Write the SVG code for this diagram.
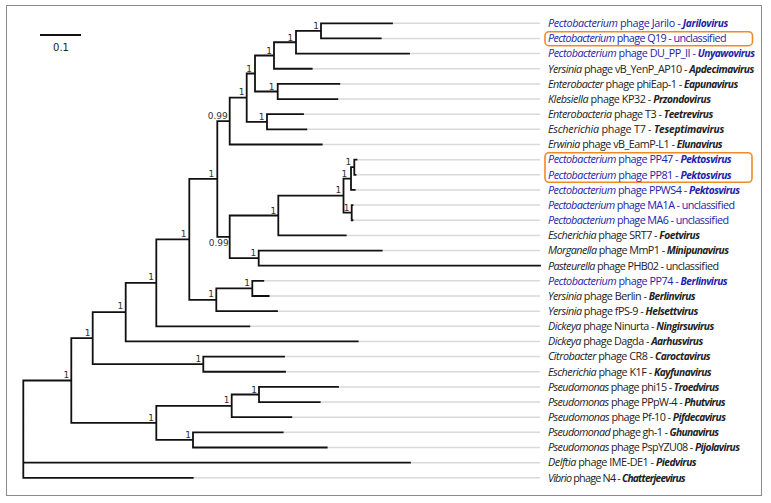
<svg xmlns="http://www.w3.org/2000/svg" width="771" height="503" viewBox="0 0 771 503">
<style>
.frame{fill:#fff;stroke:#8c8c8c;stroke-width:1}
.lead{stroke:#d9d9d9;stroke-width:1.5;fill:none}
.br{stroke:#111;stroke-width:1.8;fill:none;stroke-linecap:square}
.sup{font-family:"DejaVu Sans",sans-serif;font-size:9px;fill:#333;text-anchor:middle}
.lab{font-family:"Open Sans","Noto Sans",sans-serif;font-size:10.8px;fill:#222}
.blue{fill:#2323a8}
.i{font-style:italic}
.g{font-style:italic;font-weight:bold;font-size:10.2px}
.hl{fill:none;stroke:#ef8a2a;stroke-width:1.6}
</style>
<rect class="frame" x="6.5" y="5.5" width="755" height="490"/>
<g id="scalebar">
<line x1="40" y1="35" x2="81" y2="35" stroke="#111" stroke-width="2.2"/>
<text x="61" y="51" font-family="DejaVu Sans,sans-serif" font-size="10" fill="#222" text-anchor="middle">0.1</text>
</g>
<g id="leaders" class="lead">
<path d="M392 23.3H540M380.7 38.45H540M409 53.6H540M311.7 68.75H540M339.3 83.9H540M337.3 99.05H540M303 114.2H540M306.3 129.35H540M321.7 144.5H540M356.5 159.65H540M355.5 174.8H540M354.7 189.95H540M352.5 205.1H540M352.5 220.25H540M345.7 235.4H540M381.7 250.55H540M263.3 280.85H540M268.7 296H540M277 311.15H540M249.3 326.3H540M357.7 341.45H540M284 356.6H540M285 371.75H540M338 386.9H540M319.7 402.05H540M291.3 417.2H540M282.7 432.35H540M326.7 447.5H540M410 462.65H540M192.7 477.8H540"/>
</g>
<g id="connectors" class="br">
<path d="M321 23.3V38.45M321 23.3H392M321 38.45H380.7
M296 30.9V53.6M296 30.9H321M296 53.6H409
M274 42.25V68.75M274 42.25H296M274 68.75H311.7
M277.7 83.9V99.05M277.7 83.9H339.3M277.7 99.05H337.3
M255 55.5V91.5M255 55.5H274M255 91.5H277.7
M267 114.2V129.35M267 114.2H303M267 129.35H306.3
M246.7 73.5V121.8M246.7 73.5H255M246.7 121.8H267
M229.7 97.6V144.5M229.7 97.6H246.7M229.7 144.5H321.7
M354.3 159.65V174.8M354.3 159.65H356.5M354.3 174.8H355.5
M351 167.2V189.95M351 167.2H354.3M351 189.95H354.7
M351.7 205.1V220.25M351.7 205.1H352.5M351.7 220.25H352.5
M343.5 178.6V212.7M343.5 178.6H351M343.5 212.7H351.7
M278.3 195.6V235.4M278.3 195.6H343.5M278.3 235.4H345.7
M258.7 250.55V265.7M258.7 250.55H381.7M258.7 265.7H540
M229.7 215.5V258.1M229.7 215.5H278.3M229.7 258.1H258.7
M217.3 121.05V236.8M217.3 121.05H229.7M217.3 236.8H229.7
M252.3 280.85V296M252.3 280.85H263.3M252.3 296H268.7
M216.3 288.4V311.15M216.3 288.4H252.3M216.3 311.15H277
M189.3 178.9V299.8M189.3 178.9H217.3M189.3 299.8H216.3
M156.3 239.4V326.3M156.3 239.4H189.3M156.3 326.3H249.3
M125.7 282.8V341.45M125.7 282.8H156.3M125.7 341.45H357.7
M203.3 356.6V371.75M203.3 356.6H284M203.3 371.75H285
M92.7 312.1V364.2M92.7 312.1H125.7M92.7 364.2H203.3
M259 386.9V402.05M259 386.9H338M259 402.05H319.7
M231.7 394.5V417.2M231.7 394.5H259M231.7 417.2H291.3
M193 432.35V447.5M193 432.35H282.7M193 447.5H326.7
M156.3 405.8V439.9M156.3 405.8H231.7M156.3 439.9H193
M71.3 338.1V422.9M71.3 338.1H92.7M71.3 422.9H156.3
M23.3 380.5V477.8M23.3 380.5H71.3M23.3 462.65H410M23.3 477.8H192.7"/>
</g>
<g id="support">
<text class="sup" x="316" y="29.3">1</text>
<text class="sup" x="290.3" y="40.6">1</text>
<text class="sup" x="269" y="54">1</text>
<text class="sup" x="271.7" y="90">1</text>
<text class="sup" x="249" y="71.6">1</text>
<text class="sup" x="261.7" y="120">1</text>
<text class="sup" x="241.7" y="95">1</text>
<text class="sup" x="217.7" y="119">0.99</text>
<text class="sup" x="348.3" y="165">1</text>
<text class="sup" x="344.3" y="177.3">1</text>
<text class="sup" x="338.3" y="193.3">1</text>
<text class="sup" x="346.7" y="210.6">1</text>
<text class="sup" x="273.3" y="213.6">1</text>
<text class="sup" x="253.3" y="255.6">1</text>
<text class="sup" x="218.7" y="245.5">0.99</text>
<text class="sup" x="211.3" y="177.3">1</text>
<text class="sup" x="247" y="286">1</text>
<text class="sup" x="211" y="297.3">1</text>
<text class="sup" x="183.7" y="237">1</text>
<text class="sup" x="151" y="280.3">1</text>
<text class="sup" x="120.3" y="309">1</text>
<text class="sup" x="198.3" y="362">1</text>
<text class="sup" x="87.7" y="335.6">1</text>
<text class="sup" x="254" y="392.6">1</text>
<text class="sup" x="226.7" y="403.3">1</text>
<text class="sup" x="188" y="437.6">1</text>
<text class="sup" x="151" y="420.6">1</text>
<text class="sup" x="66.3" y="378">1</text>
</g>
<rect id="hl-q19" class="hl" x="545" y="31.7" width="207.5" height="14" rx="4"/>
<rect id="hl-pp" class="hl" x="545" y="152.7" width="207" height="29.6" rx="4"/>
<g id="leaf-jarilo"><text class="lab blue" x="548" y="27.1" textLength="180.3"><tspan class="i">Pectobacterium</tspan> phage Jarilo - <tspan class="g">Jarilovirus</tspan></text></g>
<g id="leaf-q19"><text class="lab blue" x="548" y="42.25" textLength="178.7"><tspan class="i">Pectobacterium</tspan> phage Q19 - unclassified</text></g>
<g id="leaf-dupp"><text class="lab blue" x="548" y="57.4" textLength="207"><tspan class="i">Pectobacterium</tspan> phage DU_PP_II - <tspan class="g">Unyawovirus</tspan></text></g>
<g id="leaf-ap10"><text class="lab" x="548" y="72.55" textLength="206.3"><tspan class="i">Yersinia</tspan> phage vB_YenP_AP10 - <tspan class="g">Apdecimavirus</tspan></text></g>
<g id="leaf-phieap"><text class="lab" x="548" y="87.7" textLength="190.3"><tspan class="i">Enterobacter</tspan> phage phiEap-1 - <tspan class="g">Eapunavirus</tspan></text></g>
<g id="leaf-kp32"><text class="lab" x="548" y="102.85" textLength="163"><tspan class="i">Klebsiella</tspan> phage KP32 - <tspan class="g">Przondovirus</tspan></text></g>
<g id="leaf-t3"><text class="lab" x="548" y="118" textLength="165.3"><tspan class="i">Enterobacteria</tspan> phage T3 - <tspan class="g">Teetrevirus</tspan></text></g>
<g id="leaf-t7"><text class="lab" x="548" y="133.15" textLength="176.3"><tspan class="i">Escherichia</tspan> phage T7 - <tspan class="g">Teseptimavirus</tspan></text></g>
<g id="leaf-eamp"><text class="lab" x="548" y="148.3" textLength="174.7"><tspan class="i">Erwinia</tspan> phage vB_EamP-L1 - <tspan class="g">Elunavirus</tspan></text></g>
<g id="leaf-pp47"><text class="lab blue" x="548" y="163.45" textLength="183.7"><tspan class="i">Pectobacterium</tspan> phage PP47 - <tspan class="g">Pektosvirus</tspan></text></g>
<g id="leaf-pp81"><text class="lab blue" x="548" y="178.6" textLength="183.7"><tspan class="i">Pectobacterium</tspan> phage PP81 - <tspan class="g">Pektosvirus</tspan></text></g>
<g id="leaf-ppws4"><text class="lab blue" x="548" y="193.75" textLength="192"><tspan class="i">Pectobacterium</tspan> phage PPWS4 - <tspan class="g">Pektosvirus</tspan></text></g>
<g id="leaf-ma1a"><text class="lab blue" x="548" y="208.9" textLength="187"><tspan class="i">Pectobacterium</tspan> phage MA1A - unclassified</text></g>
<g id="leaf-ma6"><text class="lab blue" x="548" y="224.05" textLength="181"><tspan class="i">Pectobacterium</tspan> phage MA6 - unclassified</text></g>
<g id="leaf-srt7"><text class="lab" x="548" y="239.2" textLength="152"><tspan class="i">Escherichia</tspan> phage SRT7 - <tspan class="g">Foetvirus</tspan></text></g>
<g id="leaf-mmp1"><text class="lab" x="548" y="254.35" textLength="181"><tspan class="i">Morganella</tspan> phage MmP1 - <tspan class="g">Minipunavirus</tspan></text></g>
<g id="leaf-phb02"><text class="lab" x="548" y="269.5" textLength="171"><tspan class="i">Pasteurella</tspan> phage PHB02 - unclassified</text></g>
<g id="leaf-pp74"><text class="lab blue" x="548" y="284.65" textLength="179.7"><tspan class="i">Pectobacterium</tspan> phage PP74 - <tspan class="g">Berlinvirus</tspan></text></g>
<g id="leaf-berlin"><text class="lab" x="548" y="299.8" textLength="147.7"><tspan class="i">Yersinia</tspan> phage Berlin - <tspan class="g">Berlinvirus</tspan></text></g>
<g id="leaf-fps9"><text class="lab" x="548" y="314.95" textLength="150.3"><tspan class="i">Yersinia</tspan> phage fPS-9 - <tspan class="g">Helsettvirus</tspan></text></g>
<g id="leaf-ninurta"><text class="lab" x="548" y="330.1" textLength="166.3"><tspan class="i">Dickeya</tspan> phage Ninurta - <tspan class="g">Ningirsuvirus</tspan></text></g>
<g id="leaf-dagda"><text class="lab" x="548" y="345.25" textLength="155.3"><tspan class="i">Dickeya</tspan> phage Dagda - <tspan class="g">Aarhusvirus</tspan></text></g>
<g id="leaf-cr8"><text class="lab" x="548" y="360.4" textLength="162.7"><tspan class="i">Citrobacter</tspan> phage CR8 - <tspan class="g">Caroctavirus</tspan></text></g>
<g id="leaf-k1f"><text class="lab" x="548" y="375.55" textLength="163.7"><tspan class="i">Escherichia</tspan> phage K1F - <tspan class="g">Kayfunavirus</tspan></text></g>
<g id="leaf-phi15"><text class="lab" x="548" y="390.7" textLength="171.3"><tspan class="i">Pseudomonas</tspan> phage phi15 - <tspan class="g">Troedvirus</tspan></text></g>
<g id="leaf-ppw4"><text class="lab" x="548" y="405.85" textLength="177.7"><tspan class="i">Pseudomonas</tspan> phage PPpW-4 - <tspan class="g">Phutvirus</tspan></text></g>
<g id="leaf-pf10"><text class="lab" x="548" y="421" textLength="178"><tspan class="i">Pseudomonas</tspan> phage Pf-10 - <tspan class="g">Pifdecavirus</tspan></text></g>
<g id="leaf-gh1"><text class="lab" x="548" y="436.15" textLength="171"><tspan class="i">Pseudomonad</tspan> phage gh-1 - <tspan class="g">Ghunavirus</tspan></text></g>
<g id="leaf-pspyzu08"><text class="lab" x="548" y="451.3" textLength="192"><tspan class="i">Pseudomonas</tspan> phage PspYZU08 - <tspan class="g">Pijolavirus</tspan></text></g>
<g id="leaf-imede1"><text class="lab" x="548" y="466.45" textLength="148.7"><tspan class="i">Delftia</tspan> phage IME-DE1 - <tspan class="g">Piedvirus</tspan></text></g>
<g id="leaf-n4"><text class="lab" x="548" y="481.6" textLength="137.7"><tspan class="i">Vibrio</tspan> phage N4 - <tspan class="g">Chatterjeevirus</tspan></text></g>
</svg>
